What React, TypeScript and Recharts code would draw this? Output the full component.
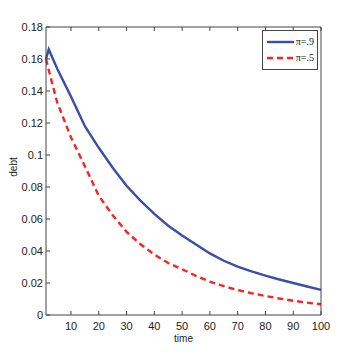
import { Legend, Line, LineChart, XAxis, YAxis } from "recharts";

// values
const time = [1, 2, 5, 10, 15, 20, 25, 30, 35, 40, 45, 50, 55, 60, 65, 70, 75, 80, 85, 90, 95, 100];
const debtPi9 = [
  0.16, 0.166, 0.154, 0.1365, 0.118, 0.1045, 0.092, 0.0808, 0.0715, 0.0632, 0.0558,
  0.0497, 0.0441, 0.0385, 0.0339, 0.0302, 0.0272, 0.0246, 0.0222, 0.02, 0.0178, 0.0157,
];
const debtPi5 = [
  0.16, 0.153, 0.133, 0.111, 0.093, 0.0745, 0.0624, 0.052, 0.0442, 0.0378, 0.0325,
  0.0286, 0.0245, 0.0208, 0.018, 0.0156, 0.0136, 0.0119, 0.0103, 0.0089, 0.0077, 0.0067,
];
const timeTicks = [10, 20, 30, 40, 50, 60, 70, 80, 90, 100];
const debtTicks = [0, 0.02, 0.04, 0.06, 0.08, 0.1, 0.12, 0.14, 0.16, 0.18];
const legendOrder = ["pi9", "pi5"];

const data = time.map((t, i) => ({ t, pi9: debtPi9[i], pi5: debtPi5[i] }));

const tickFont = {
  fontFamily: "'Liberation Sans Narrow', 'Liberation Sans', Arial, sans-serif",
  fontSize: 11,
  fill: "#222",
};
const axisColor = "#444";

const noLabel = () => <g />;

function DebtLabel({ viewBox }: any) {
  const x = viewBox.x + 17;
  const y = viewBox.y + viewBox.height / 2 - 4;
  return (
    <text
      x={x}
      y={y}
      transform={`rotate(-90, ${x}, ${y})`}
      textAnchor="middle"
      fontFamily="'Liberation Sans', Arial, sans-serif"
      fontSize={10}
      fill="#222"
    >
      debt
    </text>
  );
}

function LegendBox({ payload }: any) {
  return (
    <div
      style={{
        border: "1px solid #444",
        background: "#fff",
        padding: "3px 3px 3px 3px",
        fontFamily: "'Liberation Serif', 'Times New Roman', serif",
        fontSize: 10,
        lineHeight: "16px",
      }}
    >
      {(payload || []).map((entry: any) => (
        <div key={entry.value} style={{ display: "flex", alignItems: "center", height: 16 }}>
          <svg width={29} height={8} style={{ marginRight: 2 }}>
            <line
              x1={1}
              y1={4}
              x2={28}
              y2={4}
              stroke={entry.color}
              strokeWidth={2.4}
              strokeDasharray={entry.payload?.strokeDasharray}
            />
          </svg>
          <span style={{ color: "#222" }}>{entry.value}</span>
        </div>
      ))}
    </div>
  );
}

export default function App() {
  return (
    <div style={{ position: "absolute", left: 0, top: 0, background: "#fff" }}>
      <LineChart width={355} height={354} data={data} margin={{ top: 26, right: 33, bottom: 0, left: 0 }}>
        <XAxis
          xAxisId="bottom"
          dataKey="t"
          type="number"
          domain={[1, 100]}
          ticks={timeTicks}
          height={39}
          tickSize={-4}
          tickMargin={11}
          tick={tickFont}
          stroke={axisColor}
          label={{
            value: "time",
            position: "insideBottom",
            offset: 12,
            fontFamily: "'Liberation Sans', Arial, sans-serif",
            fontSize: 10,
            fill: "#222",
          }}
        />
        <XAxis
          xAxisId="top"
          orientation="top"
          dataKey="t"
          type="number"
          domain={[1, 100]}
          ticks={timeTicks}
          height={1}
          tickSize={-4}
          tick={noLabel}
          stroke={axisColor}
        />
        <YAxis
          yAxisId="left"
          type="number"
          domain={[0, 0.18]}
          ticks={debtTicks}
          width={46}
          tickSize={-4}
          tickMargin={7}
          tick={tickFont}
          tickFormatter={(v: number) => String(Number(v.toFixed(2)))}
          stroke={axisColor}
          label={{ content: DebtLabel }}
        />
        <YAxis
          yAxisId="right"
          orientation="right"
          type="number"
          domain={[0, 0.18]}
          ticks={debtTicks}
          width={1}
          tickSize={-4}
          tick={noLabel}
          stroke={axisColor}
        />
        <Legend
          layout="vertical"
          verticalAlign="middle"
          align="center"
          content={LegendBox}
          itemSorter={(item: any) => legendOrder.indexOf(item.dataKey)}
          wrapperStyle={{ position: "absolute", top: 30, left: 262, width: 56 }}
        />
        <Line
          xAxisId="bottom"
          yAxisId="left"
          dataKey="pi9"
          name="π=.9"
          stroke="#3a4fa6"
          strokeWidth={2.4}
          dot={false}
          isAnimationActive={false}
        />
        <Line
          xAxisId="bottom"
          yAxisId="left"
          dataKey="pi5"
          name="π=.5"
          stroke="#ff2020"
          strokeWidth={2.4}
          strokeDasharray="6 4"
          dot={false}
          isAnimationActive={false}
        />
      </LineChart>
    </div>
  );
}
